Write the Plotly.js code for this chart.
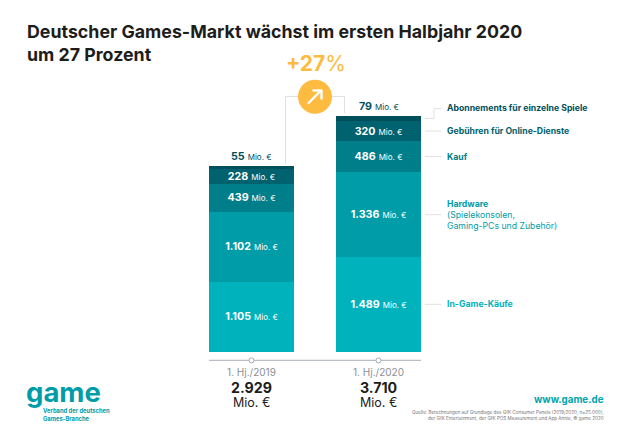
<!DOCTYPE html>
<html>
<head>
<meta charset="utf-8">
<script src="https://cdn.plot.ly/plotly-3.0.1.min.js"></script>
<style>html,body{margin:0;padding:0;background:#fff}</style>
</head>
<body>
<div id="chart" style="width:630px;height:445px"></div>
<script>
const periods = ['1. Hj./2019', '1. Hj./2020'];
const totals = [2929, 3710];
const inGame = [1105, 1489];
const hardware = [1102, 1336];
const kauf = [439, 486];
const online = [228, 320];
const abo = [55, 79];
const seriesNames = ['In-Game-Käufe', 'Hardware', 'Kauf', 'Gebühren für Online-Dienste', 'Abonnements für einzelne Spiele'];
const seriesColors = ['#00b2bb', '#009ca7', '#007e8a', '#00626f', '#004f5c'];
const series = [inGame, hardware, kauf, online, abo];

const W = 630, H = 445;
const mL = 188, mR = 188, mT = 100, mB = 93.4;
const fontName = 'Inter, sans-serif';
const px = x => (x - mL) / (W - mL - mR);
const py = y => (H - mB - y) / (H - mT - mB);

function de(n) {
  return String(n).replace(/\B(?=(\d{3})+$)/g, '.');
}
function label(n) {
  return '<b>' + de(n) + '</b> <span style="font-size:8px">Mio. €</span>';
}

const traces = series.map((vals, i) => ({
  type: 'bar',
  name: seriesNames[i],
  x: periods,
  y: vals,
  marker: {color: seriesColors[i], line: {width: 0}},
  text: i < 4 ? vals.map(label) : undefined,
  textposition: i < 4 ? 'inside' : 'none',
  insidetextanchor: 'middle',
  textangle: 0,
  constraintext: 'none',
  insidetextfont: {family: fontName, size: 10.7, color: '#ffffff'},
  hoverinfo: 'x+y'
}));

function text(x, y, t, size, color, anchor, extra) {
  return Object.assign({
    xref: 'paper', yref: 'paper', x: px(x), y: py(y), text: t, showarrow: false,
    xanchor: anchor || 'left', yanchor: 'middle', align: anchor || 'left', borderpad: 0, borderwidth: 0,
    font: {family: fontName, size: size, color: color}
  }, extra || {});
}

const annotations = [
  // value labels on top of the stacks
  {xref: 'x', yref: 'y', x: periods[0], y: totals[0], yshift: 1, yanchor: 'bottom', showarrow: false,
   text: label(abo[0]), font: {family: fontName, size: 10.7, color: seriesColors[4]}},
  {xref: 'x', yref: 'y', x: periods[1], y: totals[1], yshift: 1, yanchor: 'bottom', showarrow: false,
   text: label(abo[1]), font: {family: fontName, size: 10.7, color: seriesColors[4]}},
  // second title line
  text(27, 54.5, '<b>um 27 Prozent</b>', 17.8, '#1d1d1b'),
  // growth
  text(315.5, 63.5, '<b>+27</b>%', 21, '#fdbb40', 'center'),
  // totals
  text(251.5, 387, '<b>' + de(totals[0]) + '</b>', 14.2, '#1d1d1b', 'center'),
  text(251.5, 402, 'Mio. €', 12.5, '#1d1d1b', 'center'),
  text(378.5, 387, '<b>' + de(totals[1]) + '</b>', 14.2, '#1d1d1b', 'center'),
  text(378.5, 402, 'Mio. €', 12.5, '#1d1d1b', 'center'),
  // legend
  text(447, 108, '<b>' + seriesNames[4] + '</b>', 8.7, seriesColors[4]),
  text(447, 131, '<b>' + seriesNames[3] + '</b>', 8.7, seriesColors[3]),
  text(447, 156.5, '<b>' + seriesNames[2] + '</b>', 8.7, seriesColors[2]),
  text(447, 204, '<b>' + seriesNames[1] + '</b>', 8.7, seriesColors[1]),
  text(447, 214.5, '(Spielekonsolen,', 8.7, seriesColors[1]),
  text(447, 225.5, 'Gaming-PCs und Zubehör)', 8.7, seriesColors[1]),
  text(447, 304, '<b>' + seriesNames[0] + '</b>', 8.7, seriesColors[0]),
  // logo and footer
  text(25.5, 392, '<b>game</b>', 27.5, '#009ca7'),
  text(43, 410.5, '<b>Verband der deutschen</b>', 5.8, '#009ca7'),
  text(43, 417.5, '<b>Games-Branche</b>', 5.8, '#009ca7'),
  text(604, 399.5, '<b>www.game.de</b>', 9.8, '#00a5ae', 'right'),
  text(604, 412, 'Quelle: Berechnungen auf Grundlage des GfK Consumer Panels (2019/2020; n=25.000),', 4.6, '#777777', 'right'),
  text(604, 418, 'der GfK Entertainment, der GfK POS Measurement und App Annie, © game 2020', 4.6, '#777777', 'right')
];

const grey = '#dfe1e3';
function pline(x0, y0, x1, y1, color, width) {
  return {type: 'line', xref: 'paper', yref: 'paper', x0: px(x0), y0: py(y0), x1: px(x1), y1: py(y1),
          line: {color: color || grey, width: width || 1}};
}
function pcircle(cx, cy, r, fill, lineColor, lineWidth) {
  return {type: 'circle', xref: 'paper', yref: 'paper', x0: px(cx - r), x1: px(cx + r), y0: py(cy - r), y1: py(cy + r),
          fillcolor: fill, line: {color: lineColor || fill, width: lineWidth || 0}};
}

const shapes = [
  // axis line under the bars
  pline(209, 360, 421, 360, '#b9bdc6', 1.2),
  pcircle(251.5, 360, 2.5, '#ffffff', '#a5a9b2', 1),
  pcircle(378.5, 360, 2.5, '#ffffff', '#a5a9b2', 1),
  // connector for the growth badge
  pline(285.5, 163, 285.5, 96.5),
  pline(285.5, 96.5, 344.5, 96.5),
  pline(344.5, 96.5, 344.5, 113),
  pcircle(315, 96.7, 17, '#fdbb40'),
  pline(308, 103.5, 321, 90.5, '#ffffff', 2.4),
  pline(312.5, 90.5, 322, 90.5, '#ffffff', 2.4),
  pline(321.5, 90, 321.5, 99.5, '#ffffff', 2.4),
  // legend leaders
  pline(425, 118.5, 434, 118.5),
  pline(434, 118.5, 434, 108.5),
  pline(434, 108.5, 441.5, 108.5),
  pline(425, 131, 441.5, 131),
  pline(425, 156.5, 441.5, 156.5),
  pline(425, 214.5, 441.5, 214.5),
  pline(425, 304, 441.5, 304)
];

const layout = {
  width: W, height: H,
  margin: {l: mL, r: mR, t: mT, b: mB, pad: 0},
  paper_bgcolor: '#ffffff', plot_bgcolor: '#ffffff',
  barmode: 'stack',
  bargap: 0.33,
  showlegend: false,
  title: {
    text: '<b>Deutscher Games-Markt wächst im ersten Halbjahr 2020</b>',
    font: {family: fontName, size: 17.8, color: '#1d1d1b'},
    x: 27 / W, xanchor: 'left', xref: 'container', y: 1 - 32 / H, yanchor: 'middle', yref: 'container', pad: {l: 0, r: 0, t: 0, b: 0}
  },
  xaxis: {
    type: 'category', showgrid: false, zeroline: false, showline: false,
    ticks: '', ticklabelstandoff: 13,
    tickfont: {family: fontName, size: 10, color: '#8c8f94'}
  },
  yaxis: {range: [0, 3962], visible: false, fixedrange: true},
  annotations: annotations,
  shapes: shapes
};

Plotly.newPlot('chart', traces, layout, {displayModeBar: false, staticPlot: true});
</script>
</body>
</html>
